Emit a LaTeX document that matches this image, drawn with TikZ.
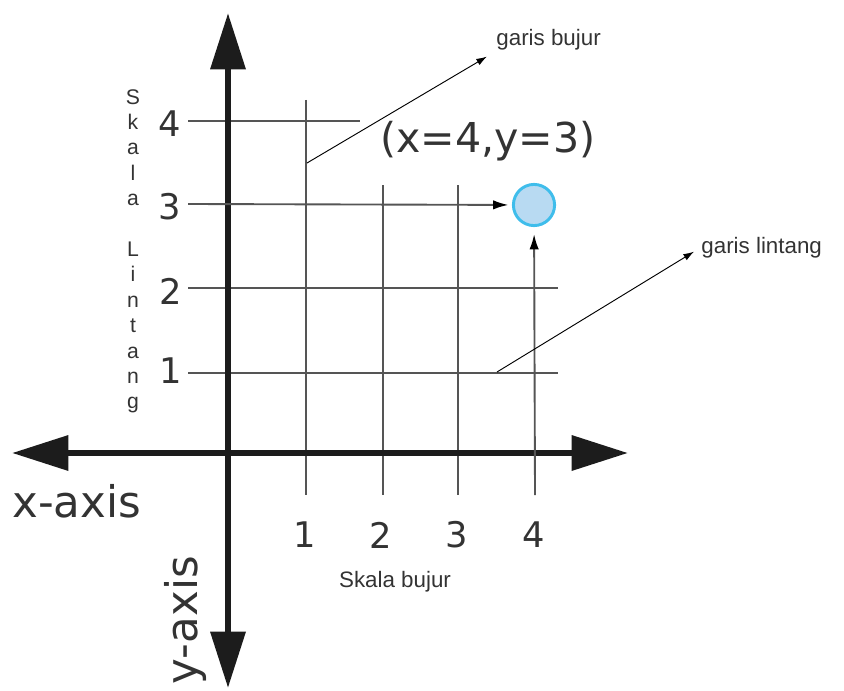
\documentclass[tikz,border=0pt]{standalone}
\usepackage{fontspec}
\setmainfont{DejaVu Sans}
\newfontfamily\labelsans{Liberation Sans}
\usetikzlibrary{arrows.meta}
\definecolor{AxisBlack}{HTML}{1C1C1C}
\definecolor{GridGray}{HTML}{555555}
\definecolor{InkGray}{HTML}{333333}
\definecolor{PointFill}{HTML}{B8DAF2}
\definecolor{PointRim}{HTML}{3FBDEB}

\begin{document}
\begin{tikzpicture}[x=0.85pt,y=-0.85pt,
  axis/.style={line width=5.5pt,AxisBlack,
    {Triangle[length=48pt,width=29pt]}-{Triangle[length=48pt,width=29pt]}},
  gridline/.style={line width=1.6pt,GridGray},
  pointer/.style={line width=1.6pt,GridGray,-{Latex[length=13pt,width=8pt,color=black]}},
  callout/.style={line width=0.8pt,black,-{Latex[length=9pt,width=6pt]}},
  ticklabel/.style={font=\fontsize{30}{36}\selectfont,text=InkGray,inner sep=0pt},
  axislabel/.style={font=\fontsize{37}{44}\selectfont,text=InkGray,inner sep=0pt},
  smalltext/.style={font=\labelsans\fontsize{19}{22}\selectfont,text=InkGray,inner sep=1pt},
  every node/.style={text=InkGray}]
  \useasboundingbox (0,0) rectangle (844,690);

  % grid
  \draw[gridline] (188,121) -- (360,121);
  \draw[gridline] (188,288) -- (558,288);
  \draw[gridline] (188,373) -- (558,373);
  \draw[gridline] (306,100) -- (306,495);
  \draw[gridline] (383,185) -- (383,495);
  \draw[gridline] (458,185) -- (458,495);

  % axes
  \draw[axis] (12,453) -- (628,453);
  \draw[axis] (228,688) -- (228,13);

  % the point
  \node[circle,draw=PointRim,fill=PointFill,line width=2.5pt,
    minimum size=35pt,inner sep=0pt] (pt) at (534,205) {};
  \coordinate (row3) at (188,204);
  \coordinate (col4) at (535,495);
  \draw[pointer,shorten >=3pt] (row3) -- (pt);
  \draw[pointer,shorten >=6pt] (col4) -- (pt);
  \node[font=\fontsize{35}{42}\selectfont] (ptlabel) at (488,141) {(x=4,y=3)};

  % scale numbers
  \node[ticklabel] (y4) at (170,124) {4};
  \node[ticklabel] (y3) at (170,207) {3};
  \node[ticklabel] (y2) at (171,291) {2};
  \node[ticklabel] (y1) at (171,371) {1};
  \node[ticklabel] (x1) at (305,535) {1};
  \node[ticklabel] (x2) at (381,535) {2};
  \node[ticklabel] (x3) at (457,535) {3};
  \node[ticklabel] (x4) at (534,535) {4};

  % axis names
  \node[axislabel,anchor=base west] (xname) at (12,517) {x-axis};
  \node[axislabel,rotate=90,anchor=base east] (yname) at (197,556) {y-axis};
  \node[smalltext] (bujurscale) at (395,582) {Skala bujur};
  \node[smalltext,align=center,anchor=north,inner sep=0pt,
    font=\labelsans\fontsize{18}{21.6}\selectfont] (lintangscale) at (133,89)
    {S\\k\\a\\l\\a\\[21.6pt]L\\i\\n\\t\\a\\n\\g};

  % callouts
  \coordinate (bujurfoot) at (307,163);
  \coordinate (lintangfoot) at (497,372);
  \node[smalltext,anchor=west] (bujur) at (495,40) {garis bujur};
  \node[smalltext,anchor=west] (lintang) at (700,248) {garis lintang};
  \draw[callout,shorten >=8pt] (bujurfoot) -- (bujur.south west);
  \draw[callout,shorten >=6pt] (lintangfoot) -- (lintang.west);
\end{tikzpicture}
\end{document}
